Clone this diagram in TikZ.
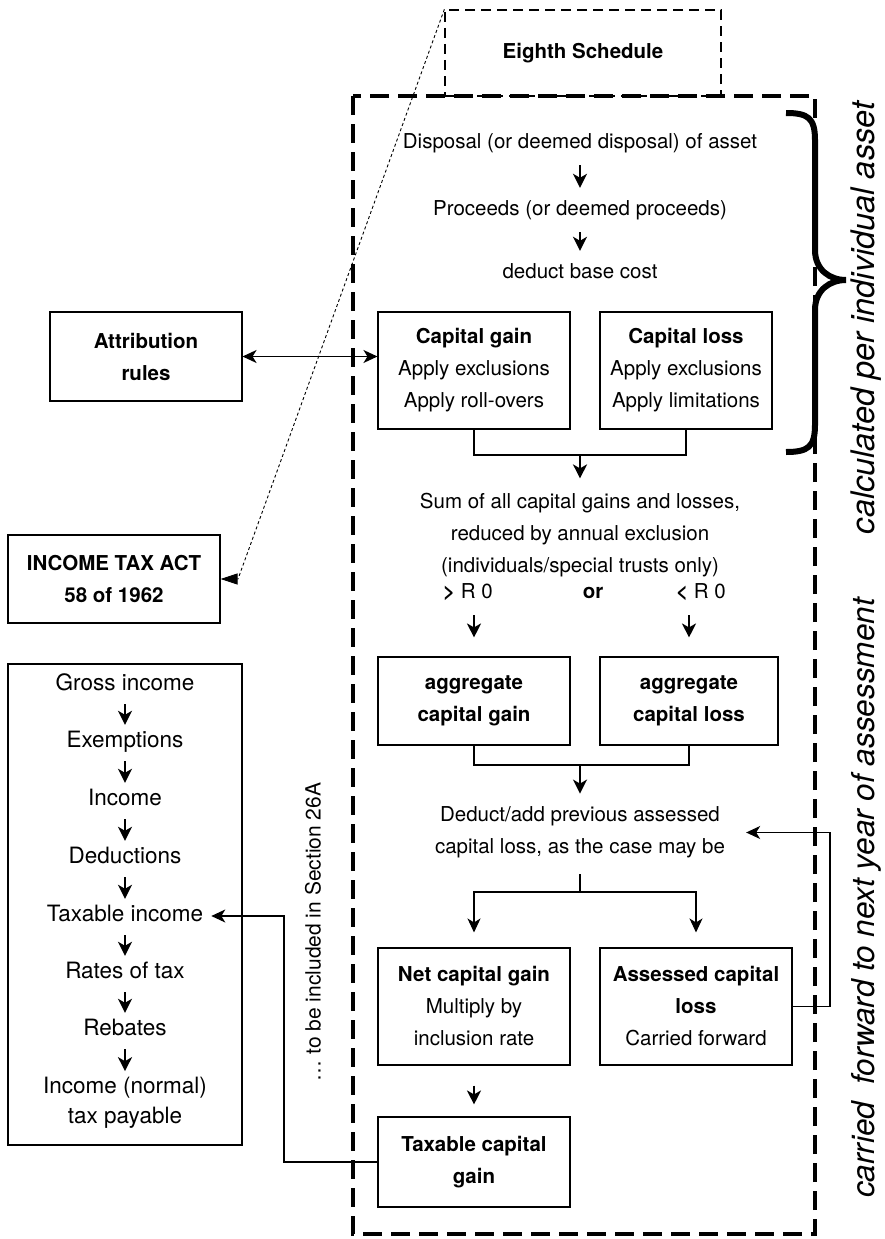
\documentclass[tikz,border=0pt]{standalone}
\usepackage{fontspec}
\setmainfont{TeX Gyre Heros}
\usetikzlibrary{arrows.meta}

\begin{document}
\begin{tikzpicture}[x=1pt,y=-1pt,
  every node/.style={inner sep=0pt,font=\fontsize{20.5}{32}\selectfont},
  box/.style={draw,line width=1.1pt,minimum width=192pt,minimum height=117pt,align=center},
  txt/.style={align=center},
  oneline/.style={text height=15pt,text depth=5pt},
  lst/.style={font=\fontsize{22.5}{30}\selectfont,text height=16.5pt,text depth=5.5pt},
  lstlast/.style={font=\fontsize{22.5}{30}\selectfont,align=center},
  side/.style={rotate=90,font=\fontsize{32.5}{38}\selectfont\itshape},
  tip/.style={-{Stealth[length=14pt,width=13pt,inset=4pt]},line width=1.1pt},
  dtip/.style={{Stealth[length=14pt,width=13pt,inset=4pt]}-{Stealth[length=14pt,width=13pt,inset=4pt]},line width=1.1pt},
  short/.style={-{Stealth[length=14pt,width=14pt,inset=4pt]},line width=2.2pt},
  link/.style={line width=1.1pt},
  bigdash/.style={line width=4.5pt,dash pattern=on 19pt off 9pt},
  thindash/.style={line width=1.3pt,dash pattern=on 10pt off 6pt},
  dotline/.style={line width=0.9pt,dash pattern=on 3pt off 2.5pt}]
\useasboundingbox (0,0) rectangle (885,1239);
\node[draw,thindash,minimum width=276pt,minimum height=86pt] (esch) at (583,53) {\textbf{Eighth Schedule}};
\draw[bigdash] (353,96) rectangle (815,1234);
\node[oneline] (disp) at (580,143) {Disposal (or deemed disposal) of asset};
\node[oneline] (proc) at (580,210) {Proceeds (or deemed proceeds)};
\node[oneline] (base) at (580,273) {deduct base cost};
\draw[short,shorten <=12pt,shorten >=12pt] (disp) -- (proc);
\draw[short,shorten <=12pt,shorten >=12pt] (proc) -- (base);
\node[box] (cg) at (474,370.5) {\textbf{Capital gain}\\Apply exclusions\\Apply roll-overs};
\node[box,minimum width=172pt] (cl) at (686,370.5) {\textbf{Capital loss}\\Apply exclusions\\Apply limitations};
\draw[line width=6pt] (786,113) .. controls (808,113) and (815,118) .. (815,140) -- (815,250) .. controls (815,270) and (830,280) .. (846,280) .. controls (830,280) and (815,290) .. (815,310) -- (815,425) .. controls (815,447) and (808,452) .. (786,452);
\node[side] (perasset) at (866,318) {calculated per individual asset};
\node[box,minimum height=89pt] (attr) at (146,356.5) {\textbf{Attribution}\\\textbf{rules}};
\draw[dtip] (attr.east) -- (attr.east -| cg.west);
\coordinate (j1) at (580,455);
\draw[link] (cg.south) |- (j1) -| (cl.south);
\node[txt] (sum) at (580,535.5) {Sum of all capital gains and losses,\\reduced by annual exclusion\\(individuals/special trusts only)};
\draw[short,shorten >=15pt] (j1) -- (sum.north);
\node[oneline] (gt) at (468,593) {\textbf{>} R 0};
\node[oneline] (or) at (593,593) {\textbf{or}};
\node[oneline] (lt) at (701,593) {\textbf{<} R 0};
\node[box,minimum height=88pt] (aggg) at (474,701) {\textbf{aggregate}\\\textbf{capital gain}};
\node[box,minimum width=178pt,minimum height=88pt] (aggl) at (689,701) {\textbf{aggregate}\\\textbf{capital loss}};
\draw[short,shorten <=12pt,shorten >=19pt] (gt.south -| aggg.north) -- (aggg.north);
\draw[short,shorten <=12pt,shorten >=19pt] (lt.south -| aggl.north) -- (aggl.north);
\coordinate (j2) at (580,765);
\draw[link] (aggg.south) |- (j2) -| (aggl.south);
\node[txt] (ded) at (580,832.5) {Deduct/add previous assessed\\capital loss, as the case may be};
\draw[short,shorten >=13pt] (j2) -- (ded.north);
\coordinate (fork) at (580,892);
\draw[line width=2pt,shorten <=16pt] (ded.south) -- (fork);
\node[box] (ncg) at (474,1006.5) {\textbf{Net capital gain}\\Multiply by\\inclusion rate};
\node[box] (acl) at (696,1006.5) {\textbf{Assessed capital}\\\textbf{loss}\\Carried forward};
\draw[tip,shorten >=15pt] (fork) -| (ncg.north);
\draw[tip,shorten >=15pt] (fork) -| (acl.north);
\coordinate (fb) at (830,920);
\draw[tip,shorten >=21pt] (acl.east) -| (fb) |- (ded.east);
\node[side,font=\fontsize{31.5}{37}\selectfont\itshape] (nextyear) at (866,898) {carried\ \ forward to next year of assessment};
\node[box,minimum height=90pt] (tcg) at (474,1162) {\textbf{Taxable capital}\\\textbf{gain}};
\draw[short,shorten <=20pt,shorten >=12pt] (ncg) -- (tcg);
\node[box,minimum width=212pt,minimum height=88pt] (ita) at (114,579) {\textbf{INCOME TAX ACT}\\\textbf{58 of 1962}};
\coordinate (itad) at (238,579);
\draw[dotline,-{Triangle[length=17pt,width=11pt]}] (esch.north west) -- (itad) -- (ita.east);
\node[draw,line width=2pt,minimum width=234pt,minimum height=481pt] (inc) at (125,904.5) {};
\node[lst] (gross) at (125,685) {Gross income};
\node[lst] (exem) at (125,742) {Exemptions};
\node[lst] (incm) at (125,800) {Income};
\node[lst] (dedn) at (125,858) {Deductions};
\node[lst] (taxi) at (125,916) {Taxable income};
\node[lst] (rate) at (125,973) {Rates of tax};
\node[lst] (reb) at (125,1030) {Rebates};
\node[lstlast] (pay) at (125,1103) {Income (normal)\\tax payable};
\draw[short,shorten <=8pt,shorten >=6pt] (gross) -- (exem);
\draw[short,shorten <=8pt,shorten >=6pt] (exem) -- (incm);
\draw[short,shorten <=8pt,shorten >=6pt] (incm) -- (dedn);
\draw[short,shorten <=8pt,shorten >=6pt] (dedn) -- (taxi);
\draw[short,shorten <=8pt,shorten >=6pt] (taxi) -- (rate);
\draw[short,shorten <=8pt,shorten >=6pt] (rate) -- (reb);
\draw[short,shorten <=8pt,shorten >=6pt] (reb) -- (pay);
\node[rotate=90,font=\fontsize{21}{25}\selectfont] (sec) at (313,932) {\ldots\ to be included in Section 26A};
\coordinate (s26) at (284,1040);
\draw[tip,shorten >=8pt] (tcg.west) -| (s26) |- (taxi.east);
\end{tikzpicture}
\end{document}
